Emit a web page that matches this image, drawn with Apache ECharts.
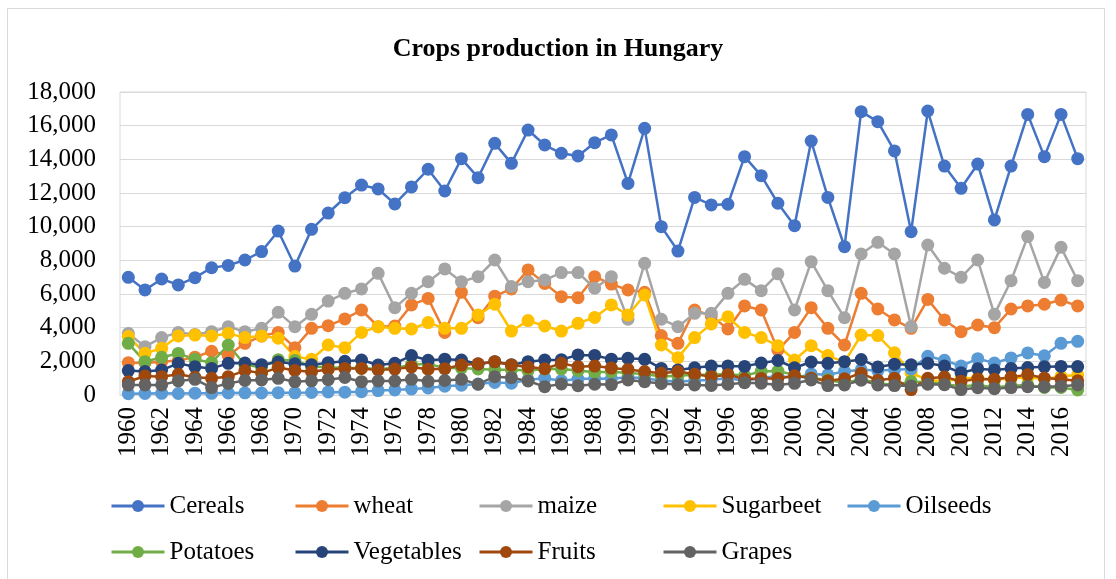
<!DOCTYPE html>
<html>
<head>
<meta charset="utf-8">
<script src="https://cdn.jsdelivr.net/npm/echarts@6/dist/echarts.min.js"></script>
<style>
html,body{margin:0;padding:0;background:#fff;}
#chart{width:1116px;height:579px;}
</style>
</head>
<body>
<div id="chart"></div>
<script>
var years = [];
for (var y = 1960; y <= 2017; y++) years.push(String(y));

var cereals = [6990,6240,6890,6540,6970,7560,7700,8020,8520,9740,7660,9840,10810,11720,12470,12240,11350,12360,13410,12120,14040,12910,14950,13760,15740,14850,14360,14200,14990,15450,12570,15840,10000,8550,11740,11290,11330,14160,13030,11390,10060,15090,11740,8810,16830,16240,14500,9700,16870,13600,12280,13720,10400,13600,16670,14160,16670,14040];
var wheat = [1920,1900,1980,2050,2250,2600,2350,3070,3500,3720,2810,3960,4120,4520,5050,4060,4100,5350,5740,3720,6100,4590,5870,6300,7430,6630,5840,5780,7030,6590,6240,6100,3530,3070,5050,4700,3920,5290,5050,2670,3720,5190,3960,2970,6040,5110,4460,3960,5680,4460,3760,4160,4000,5110,5290,5390,5640,5290];
var maize = [3660,2870,3410,3720,3600,3760,4060,3760,3960,4910,4060,4790,5580,6040,6300,7230,5190,6040,6730,7490,6730,7030,8020,6440,6730,6830,7270,7270,6340,7030,4500,7820,4500,4060,4850,4850,6040,6870,6200,7200,5050,7920,6200,4590,8380,9070,8380,4060,8910,7530,6990,8020,4790,6790,9410,6690,8770,6790];
var sugarbeet = [3470,2480,2770,3510,3560,3510,3660,3410,3510,3370,2280,2120,2970,2810,3720,4060,3960,3920,4300,3960,3960,4750,5390,3800,4420,4100,3800,4260,4610,5350,4750,5940,2970,2220,3410,4220,4650,3720,3410,2930,2080,2930,2340,1950,3560,3530,2510,1300,900,800,1000,1000,900,1000,1050,950,1100,1200];
var oilseeds = [80,90,100,90,110,100,120,130,120,140,130,150,180,170,200,260,300,360,420,520,580,650,750,700,900,1000,850,950,980,970,1050,1000,850,800,850,900,1000,850,1000,1150,1000,1250,1200,1400,1500,1450,1500,1550,2300,2060,1720,2160,1900,2200,2500,2330,3070,3190];
var potatoes = [3070,1980,2240,2470,2120,1920,2970,1800,1650,2100,2050,1700,1650,1600,1600,1550,1600,1800,1850,1600,1600,1550,1500,1500,1450,1550,1550,1450,1350,1380,1300,1250,1100,1150,1200,1200,1250,1150,1400,1420,1200,1000,900,700,950,700,600,800,750,650,500,600,450,550,600,450,450,300];
var vegetables = [1450,1390,1480,1880,1680,1580,1880,1900,1800,1960,1850,1800,1920,2000,2080,1780,1880,2340,2060,2130,2080,1840,1980,1800,1980,2080,2100,2380,2350,2130,2180,2120,1580,1490,1620,1720,1730,1700,1900,2050,1620,1960,1880,1980,2110,1660,1830,1790,1880,1720,1320,1560,1490,1580,1630,1680,1700,1690];
var fruits = [790,1130,1090,1230,1050,990,1090,1450,1300,1630,1460,1380,1520,1580,1580,1490,1540,1670,1530,1560,1780,1850,1980,1780,1660,1560,1880,1680,1720,1600,1520,1390,1290,1390,1240,1090,1200,950,980,980,1140,1000,840,960,1290,870,1000,320,990,1070,810,950,935,1050,1210,1010,940,840];
var grapes = [590,600,600,830,930,440,690,860,890,990,790,840,910,1040,790,830,830,930,810,860,930,640,1090,1030,830,495,660,550,640,620,890,790,690,630,594,570,640,730,700,594,693,891,560,600,880,600,560,540,640,610,320,436,370,440,495,495,520,594];

var seriesNames = ['Cereals','wheat','maize','Sugarbeet','Oilseeds','Potatoes','Vegetables','Fruits','Grapes'];
var seriesData = [cereals, wheat, maize, sugarbeet, oilseeds, potatoes, vegetables, fruits, grapes];
var seriesColors = ['#4472C4','#ED7D31','#A5A5A5','#FFC000','#5B9BD5','#70AD47','#264478','#9E480E','#636363'];

var FONT = "'Liberation Serif','Times New Roman',serif";

var series = seriesNames.map(function (n, i) {
  return {
    name: n,
    type: 'line',
    data: seriesData[i],
    symbol: 'circle',
    symbolSize: 13,
    showSymbol: true,
    showAllSymbol: true,
    itemStyle: { color: seriesColors[i] },
    lineStyle: { color: seriesColors[i], width: 2.5 },
    emphasis: { disabled: true }
  };
});

function legendCfg(names, top) {
  return {
    data: names,
    left: 110,
    top: top,
    orient: 'horizontal',
    itemWidth: 53,
    itemHeight: 15,
    itemGap: 4.5,
    padding: 0,
    lineStyle: { width: 3 },
    textStyle: { fontFamily: FONT, fontSize: 25, color: '#000', width: 120, lineHeight: 26 }
  };
}

var chart = echarts.init(document.getElementById('chart'), null, { renderer: 'canvas' });
chart.setOption({
  animation: false,
  backgroundColor: '#fff',
  title: {
    text: 'Crops production in Hungary',
    left: 'center',
    top: 31,
    textStyle: { fontFamily: FONT, fontSize: 26, fontWeight: 'bold', color: '#000' }
  },
  graphic: [{
    type: 'rect',
    shape: { x: 7.5, y: 8.5, width: 1097, height: 600 },
    style: { fill: 'none', stroke: '#d9d9d9', lineWidth: 1 },
    silent: true
  }],
  legend: [
    legendCfg(seriesNames.slice(0, 5), 493),
    legendCfg(seriesNames.slice(5), 539)
  ],
  grid: {
    left: 120, right: 30, top: 92, bottom: 184,
    show: true, borderColor: '#d9d9d9', borderWidth: 1, containLabel: false
  },
  xAxis: {
    type: 'category',
    data: years,
    boundaryGap: true,
    axisLine: { lineStyle: { color: '#d9d9d9', width: 1 } },
    axisTick: { show: false },
    axisLabel: { interval: 1, rotate: 90, margin: 12, fontFamily: FONT, fontSize: 25, color: '#000' }
  },
  yAxis: {
    type: 'value',
    min: 0, max: 18000, interval: 2000,
    axisLine: { show: false },
    axisTick: { show: false },
    splitLine: { lineStyle: { color: '#d9d9d9', width: 1 } },
    axisLabel: {
      margin: 24, fontFamily: FONT, fontSize: 25, color: '#000',
      formatter: function (v) { return v.toLocaleString('en-US'); }
    }
  },
  series: series
});
</script>
</body>
</html>
